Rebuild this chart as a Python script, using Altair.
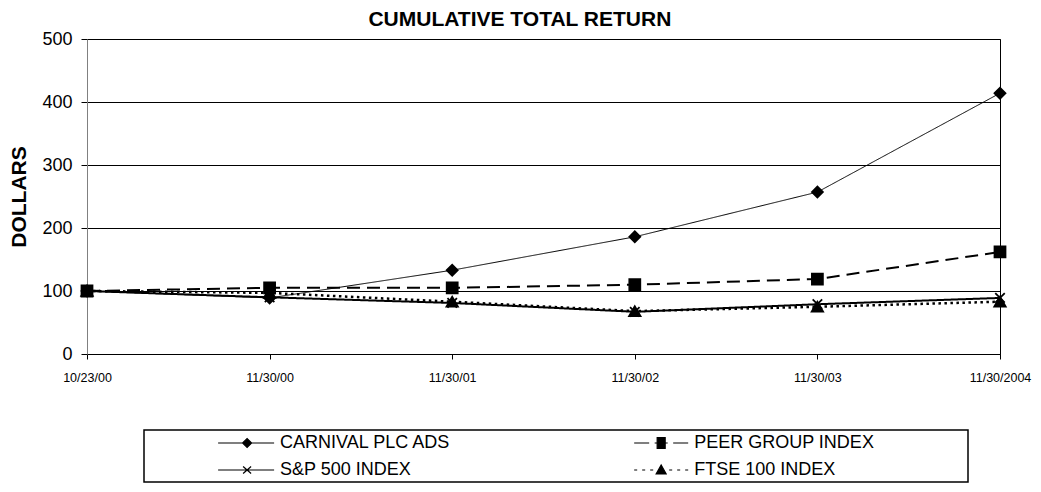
import altair as alt
import pandas as pd

# ---------------- data ----------------
dates = ["10/23/00", "11/30/00", "11/30/01", "11/30/02", "11/30/03", "11/30/2004"]
series_names = ["CARNIVAL PLC ADS", "PEER GROUP INDEX", "S&P 500 INDEX", "FTSE 100 INDEX"]
carnival = [100, 89, 133, 186, 257, 414]
peer_group = [100, 105, 105, 110, 119, 162]
sp500 = [100, 90, 81, 67, 79, 89]
ftse100 = [100, 97, 83, 68, 75, 83]

series_values = [carnival, peer_group, sp500, ftse100]
rows = []
for name, vals in zip(series_names, series_values):
    for d, v in zip(dates, vals):
        rows.append({"date": d, "series": name, "value": v})
df = pd.DataFrame(rows)

FONT = "Liberation Sans"

# ---------------- styles ----------------
X_PATH = "M-1,-1L1,1M-1,1L1,-1"
styles = {
    "FTSE 100 INDEX": dict(width=2.5, dash=[2.5, 3.5], shape="triangle-up", size=130),
    "S&P 500 INDEX": dict(width=2, dash=[1, 0], shape=X_PATH, size=90),
    "PEER GROUP INDEX": dict(width=2, dash=[13, 7], shape="square", size=120),
    "CARNIVAL PLC ADS": dict(width=1, dash=[1, 0], shape="diamond", size=120),
}

x_enc = alt.X(
    "date:O", sort=dates,
    scale=alt.Scale(type="point", padding=0),
    axis=alt.Axis(title=None, labelAngle=0, labelFont=FONT, labelFontSize=12.5,
                  labelColor="black", tickSize=5, tickColor="black",
                  domainColor="black", labelPadding=12, grid=False),
)
y_enc = alt.Y(
    "value:Q",
    scale=alt.Scale(domain=[0, 500], nice=False),
    axis=alt.Axis(values=[0, 100, 200, 300, 400, 500], title="DOLLARS",
                  titleFont=FONT, titleFontSize=21, titleFontWeight="bold",
                  titleColor="black", titlePadding=12,
                  labelFont=FONT, labelFontSize=18, labelColor="black",
                  labelPadding=9, tickSize=6, tickColor="black",
                  domainColor="#808080", gridColor="black", gridWidth=1, grid=True),
)

layers = []
order = ["FTSE 100 INDEX", "S&P 500 INDEX", "PEER GROUP INDEX", "CARNIVAL PLC ADS"]
for name in order:
    st = styles[name]
    base = alt.Chart(df).transform_filter(alt.datum.series == name)
    layers.append(base.mark_line(color="black", strokeWidth=st["width"],
                                 strokeDash=st["dash"]).encode(x=x_enc, y=y_enc))
for name in order:
    st = styles[name]
    base = alt.Chart(df).transform_filter(alt.datum.series == name)
    layers.append(base.mark_point(shape=st["shape"], size=st["size"], filled=True,
                                  fill="black", stroke="black", strokeWidth=1.8,
                                  opacity=1).encode(x=x_enc, y=y_enc))

main = alt.layer(*layers).properties(
    width=913, height=315,
    view=alt.ViewBackground(stroke="black", strokeWidth=1),
)

# ---------------- legend panel ----------------
legend_paths = [
    "M-5.8,0H5.4M-0.9,0L0,-0.9L0.9,0L0,0.9Z",
    "M-5.4,0H-2.4M-1.3,0H-0.8M0.8,0H1.3M2.4,0H5.4M-0.8,-1.1H0.8V1.1H-0.8Z",
    "M-5.8,0H5.4M-0.8,-0.7L0.8,0.7M-0.8,0.7L0.8,-0.7",
    "M-5.4,0H-4.8M-3.8,0H-3.2M-2.2,0H-1.6M1.6,0H2.2M3.2,0H3.8M4.8,0H5.4M0,-1L1,0.8L-1,0.8Z",
]
leg_df = pd.DataFrame({"series": series_names})
leg_base = alt.Chart(leg_df).transform_window(
    idx="row_number()"
).transform_calculate(
    col="(datum.idx - 1) % 2", row="floor((datum.idx - 1) / 2)"
)
lx = alt.X("col:Q", scale=alt.Scale(domain=[-0.249, 1.741], nice=False, zero=False), axis=None)
ly = alt.Y("row:Q", scale=alt.Scale(domain=[-0.481, 1.445], nice=False, zero=False, reverse=True), axis=None)

leg_symbols = leg_base.mark_point(filled=True, fill="black", stroke="black",
                                  strokeWidth=1.2, size=100, opacity=1).encode(
    x=lx, y=ly,
    shape=alt.Shape("series:N", scale=alt.Scale(domain=series_names, range=legend_paths), legend=None),
)
leg_text = leg_base.mark_text(align="left", baseline="middle", dx=33, font=FONT,
                              fontSize=18, color="black").encode(x=lx, y=ly, text="series:N")
legend_panel = alt.layer(leg_symbols, leg_text).properties(
    width=824, height=52,
    view=alt.ViewBackground(stroke="black", strokeWidth=1.5),
)
spacer = leg_base.mark_point(opacity=0, size=1).encode(x=lx, y=ly).properties(
    width=55, height=52,
    view=alt.ViewBackground(stroke="transparent"),
)
legend_row = alt.hconcat(spacer, legend_panel, spacing=0)

chart = alt.vconcat(
    main, legend_row, spacing=76, bounds="flush",
    title=alt.Title("CUMULATIVE TOTAL RETURN", font=FONT, fontSize=21,
                    fontWeight="bold", color="black", anchor="middle", offset=0),
).properties(
    padding={"left": 0, "top": 0, "right": 0, "bottom": 0},
    background="white",
)

chart.save("out.html", embed_options={"renderer": "svg", "actions": False})
